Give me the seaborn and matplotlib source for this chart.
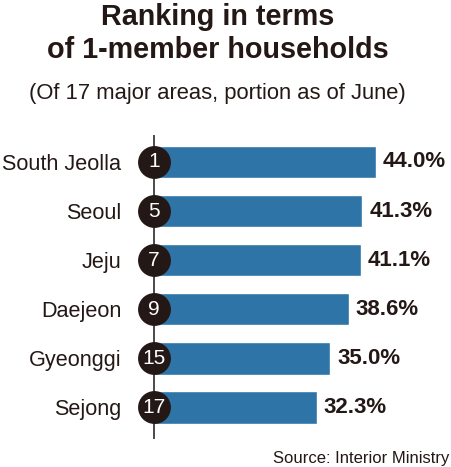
import matplotlib
matplotlib.use("Agg")
import matplotlib.pyplot as plt
import seaborn as sns
import pandas as pd

# data
regions = ["South Jeolla", "Seoul", "Jeju", "Daejeon", "Gyeonggi", "Sejong"]
ranks = [1, 5, 7, 9, 15, 17]
shares = [44.0, 41.3, 41.1, 38.6, 35.0, 32.3]

BAR = "#2e74a7"
INK = "#231815"

sns.set_theme(style="white")
plt.rcParams["font.family"] = ["Liberation Sans", "DejaVu Sans"]

df = pd.DataFrame({"region": regions, "rank": ranks, "share": shares})

fig = plt.figure(figsize=(4.51, 4.67), dpi=100)
ax = fig.add_axes([0.3415, 0.0621, 0.5588, 0.6467])

sns.barplot(data=df, x="share", y="region", orient="h", color=BAR,
            saturation=1, width=0.67, ax=ax)

ax.set_xlim(0, 50)
ax.set_ylim(5.63, -0.53)
ax.set_xlabel("")
ax.set_ylabel("")
ax.set_xticks([])

for s in ["top", "right", "bottom"]:
    ax.spines[s].set_visible(False)
ax.spines["left"].set_color("#4a4a4a")
ax.spines["left"].set_linewidth(1.4)

ax.tick_params(axis="y", length=0, pad=23.5, labelsize=15.6, labelcolor=INK)

# percentage labels
labels = ["{:.1f}%".format(v) for v in df["share"]]
ax.bar_label(ax.containers[0], labels=labels, padding=5, fontsize=16,
             fontweight="bold", color=INK)

# rank badges on the axis line
ax.scatter([0] * len(df), range(len(df)), s=560, color=INK, zorder=5,
           clip_on=False, linewidths=0)
for i, r in enumerate(df["rank"]):
    ax.text(0, i, str(r), ha="center", va="center", color="white",
            fontsize=15, zorder=6)

fig.text(0.482, 0.9465, "Ranking in terms", ha="center", va="baseline",
         fontsize=20.7, fontweight="bold", color=INK)
fig.text(0.482, 0.8758, "of 1-member households", ha="center",
         va="baseline", fontsize=20.7, fontweight="bold", color=INK)
fig.text(0.482, 0.788, "(Of 17 major areas, portion as of June)",
         ha="center", va="baseline", fontsize=15.8, color=INK)
fig.text(0.997, 0.018, "Source: Interior Ministry", ha="right",
         va="center", fontsize=12, color=INK)

fig.savefig("out.png", dpi=100)
